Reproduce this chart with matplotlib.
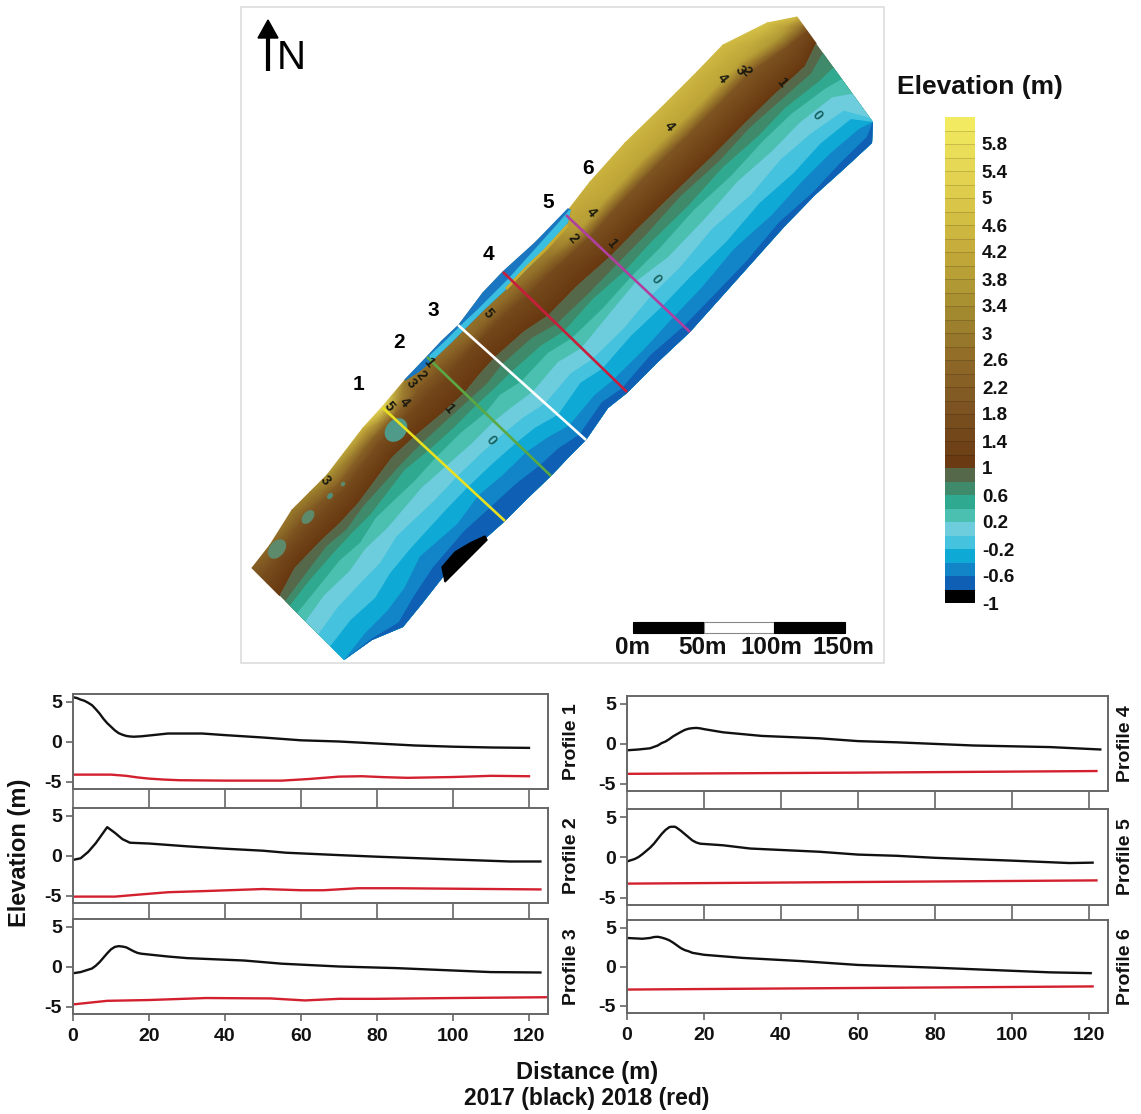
import numpy as np
import matplotlib
matplotlib.use("Agg")
import matplotlib.pyplot as plt
from matplotlib.colors import LinearSegmentedColormap
from matplotlib.patches import Ellipse, Polygon, Rectangle

#-----Data-----#
distance1_black = [0,1,2,3,4,5,6,7,8,9,10,11,12,13,14,15,16,18,20,25,30,34,40,50,60,70,80,90,100,110,120]
elev1_black = [5.6,5.5,5.3,5.15,4.9,4.6,4.1,3.55,2.9,2.35,1.9,1.45,1.1,0.9,0.75,0.68,0.65,0.7,0.8,1.05,1.05,1.05,0.85,0.55,0.2,0.05,-0.2,-0.45,-0.6,-0.7,-0.75]
distance1_red = [0,10,14,17,20,24,28,40,55,62,66,70,76,82,88,100,110,120]
elev1_red = [-4.1,-4.1,-4.25,-4.45,-4.6,-4.72,-4.8,-4.85,-4.85,-4.65,-4.5,-4.35,-4.3,-4.42,-4.5,-4.4,-4.25,-4.3]

distance2_black = [0,2,4,6,9,11,13,15,20,30,40,50,56,70,80,100,115,123]
elev2_black = [-0.5,-0.3,0.5,1.6,3.6,2.9,2.1,1.65,1.55,1.2,0.9,0.65,0.4,0.1,-0.1,-0.45,-0.7,-0.7]
distance2_red = [0,11,16,25,35,50,60,66,75,85,123]
elev2_red = [-5.1,-5.1,-4.9,-4.55,-4.4,-4.15,-4.3,-4.3,-4.05,-4.05,-4.2]

distance3_black = [0,2,5,6,7,8,9,10,11,12,13,14,15,16,17,18,20,25,30,45,55,70,85,100,110,123]
elev3_black = [-0.8,-0.65,-0.2,0.15,0.6,1.15,1.7,2.2,2.5,2.6,2.55,2.45,2.2,1.95,1.75,1.65,1.55,1.3,1.1,0.8,0.4,0.05,-0.15,-0.45,-0.65,-0.7]
distance3_red = [0,4,9,20,35,52,61,70,80,100,124.5]
elev3_red = [-4.7,-4.5,-4.25,-4.15,-3.9,-3.95,-4.2,-4.0,-4.0,-3.9,-3.8]

distance4_black = [0,3,6,8,9,10,11,12,14,15,16,17,18,19,20,25,35,50,60,70,90,110,123]
elev4_black = [-0.8,-0.7,-0.55,-0.2,0.1,0.3,0.6,0.95,1.5,1.75,1.9,1.97,2.0,1.95,1.85,1.45,1.0,0.7,0.35,0.2,-0.2,-0.4,-0.7]
distance4_red = [0,60,122]
elev4_red = [-3.75,-3.6,-3.4]

distance5_black = [0,2,3,4,5,6,7,8,9,10,11,11.5,12.5,13,14,15,16,17,18,19,25,32,50,60,70,80,100,115,121]
elev5_black = [-0.5,-0.2,0.05,0.4,0.8,1.2,1.7,2.3,2.9,3.4,3.75,3.8,3.8,3.65,3.3,2.9,2.5,2.1,1.85,1.7,1.5,1.1,0.7,0.35,0.2,-0.05,-0.4,-0.7,-0.65]
distance5_red = [0,60,122]
elev5_red = [-3.25,-3.05,-2.85]

distance6_black = [0,4,6,7,8,9,10,11,12,13,14,15,16,17,20,30,45,60,80,100,110,120.5]
elev6_black = [3.7,3.6,3.7,3.82,3.85,3.75,3.6,3.4,3.1,2.75,2.4,2.15,2.0,1.8,1.55,1.15,0.75,0.25,-0.1,-0.5,-0.7,-0.8]
distance6_red = [0,60,121]
elev6_red = [-2.9,-2.7,-2.5]

profile_names = ["Profile 1","Profile 2","Profile 3","Profile 4","Profile 5","Profile 6"]
distance_ticks = [0,20,40,60,80,100,120]
elev_ticks = [-5,0,5]
elev_tick_labels = ["-5","0","5"]

#map stations: landward edge and seaward edge of the strip
land_edge_x = [252,270,292,310,327,363,383,405,427,442,459,483,503,535,566,590,625,662,697,723,767,797]
land_edge_y = [568,545,510,492,475,428,406,380,357,341,325,293,272,243,213,182,143,107,72,45,23,17]
sea_edge_x = [344,372,403,421,443,478,505,528,551,568,586,608,627,658,690,716,750,784,815,845,872,873]
sea_edge_y = [660,640,627,605,577,545,521,498,476,458,440,408,393,362,332,303,265,227,195,168,143,122]

#where each contour crosses a station, as a share of the way from land edge to sea edge
contour_levels = [1.0,0.8,0.6,0.4,0.2,0.0,-0.2,-0.4,-0.6]
contour_share = [
    [0.30,0.36,0.41,0.49,0.58,0.72,0.85,1.00,1.00],
    [0.24,0.33,0.38,0.46,0.53,0.66,0.79,0.93,0.99],
    [0.26,0.31,0.37,0.43,0.52,0.62,0.75,0.86,0.96],
    [0.27,0.33,0.37,0.45,0.50,0.63,0.72,0.85,0.93],
    [0.27,0.31,0.38,0.42,0.52,0.60,0.72,0.80,0.91],
    [0.25,0.32,0.36,0.45,0.51,0.62,0.71,0.82,0.88],
    [0.26,0.32,0.38,0.44,0.52,0.61,0.70,0.78,0.88],
    [0.29,0.34,0.40,0.45,0.54,0.62,0.71,0.80,0.89],
    [0.30,0.35,0.40,0.47,0.54,0.63,0.72,0.80,0.91],
    [0.29,0.36,0.41,0.46,0.56,0.65,0.74,0.83,0.92],
    [0.28,0.34,0.41,0.49,0.58,0.68,0.78,0.87,0.95],
    [0.33,0.39,0.46,0.52,0.60,0.70,0.78,0.89,0.95],
    [0.36,0.43,0.49,0.55,0.63,0.72,0.80,0.89,0.96],
    [0.35,0.43,0.47,0.55,0.60,0.72,0.78,0.89,0.94],
    [0.36,0.42,0.48,0.53,0.57,0.69,0.78,0.87,0.95],
    [0.38,0.44,0.49,0.55,0.62,0.71,0.79,0.88,0.96],
    [0.40,0.44,0.51,0.55,0.63,0.70,0.81,0.87,0.97],
    [0.41,0.46,0.50,0.57,0.62,0.73,0.80,0.90,0.96],
    [0.41,0.45,0.52,0.56,0.64,0.71,0.82,0.89,0.98],
    [0.41,0.46,0.51,0.56,0.63,0.72,0.80,0.88,0.96],
    [0.36,0.42,0.49,0.55,0.62,0.73,0.80,0.88,0.95],
    [0.25,0.34,0.48,0.59,0.73,0.96,1.00,1.00,1.00],
]
#elevation on the land part: at the land edge, then 35 and 55 percent of the way to the 1 m contour
land_elev = [
    [2.2,1.7,1.5],[2.6,1.8,1.5],[3.0,2.0,1.6],[3.2,2.0,1.6],[3.6,2.2,1.6],[4.4,2.4,1.7],
    [5.6,2.4,1.6],[3.0,2.0,1.5],[3.0,2.0,1.5],[3.0,2.2,1.5],[3.0,2.4,1.5],[3.2,2.6,1.6],
    [3.4,2.6,1.6],[3.8,2.8,1.6],[4.2,3.8,1.8],[4.4,4.0,1.9],[4.5,4.0,2.0],[4.5,4.0,2.0],
    [4.5,4.0,2.0],[4.6,4.0,2.0],[4.8,3.6,1.8],[4.6,2.6,1.6],
]
land_steps = [0.0,0.35,0.55,1.0]

band_colors = ["#0f5fb5","#1185c7","#0fa9d6","#45c2dd","#6ecddd","#4bbfb0","#2fa98f","#3f8a6a","#56684a"]
land_colors = ["#683810","#7a5020","#8f6a28","#a58d30","#c4aa3a","#dcc94a","#f4ec62"]
land_color_levels = [1.0,1.8,2.6,3.4,4.2,5.0,6.2]

black_patch_x = [445,442,455,470,485,487]
black_patch_y = [582,567,552,543,536,540]
strip_x = [568,535,503,483,459,442,427,405,418,430,450,470,483,513,540,567,570]
strip_y = [209,243,272,293,325,341,357,380,372,362,343,323,310,282,255,223,210]
stripe_x = [570,560,535,508,478,462,445,430,432,450,470,483,513,540,567]
stripe_y = [210,222,250,280,310,325,342,356,360,343,323,310,282,255,223]
ridge_x = [507,527,545,567]
ridge_y = [288,267,250,226]

pond_x = [396,277,308,330,343]
pond_y = [430,549,517,496,484]
pond_w = [26,22,16,7,5]
pond_h = [20,15,10,5,4]
pond_colors = ["#4f9a88","#5e8a6c","#5e8a6c","#4f8f78","#5e8a6c"]

line_x0 = [383,427,458,503,566]
line_y0 = [408,357,325,272,215]
line_x1 = [505,551,586,627,690]
line_y1 = [521,476,440,392,332]
line_colors = ["#e8e020","#5aa844","#ffffff","#c81e3c","#b040a0"]

number_labels = ["1","2","3","4","5","6"]
number_x = [358,399,433,488,548,588]
number_y = [384,342,310,255,203,169]

contour_text = ["5","4","3","2","1","1","0","3","4","3","2","1","0","4","4","2","1","0","5"]
contour_text_x = [389,404,411,421,429,449,491,325,722,740,746,782,817,669,591,573,612,656,488]
contour_text_y = [406,402,383,375,362,408,440,480,78,70,71,82,115,126,212,238,243,279,313]

scale_edges = [633,704,774,845]
scale_fill = ["black","white","black"]
scale_names = ["0m","50m","100m","150m"]
scale_name_x = [632,703,771,843]

bar_ticks = [-1,-0.6,-0.2,0.2,0.6,1,1.4,1.8,2.2,2.6,3,3.4,3.8,4.2,4.6,5,5.4,5.8]
bar_labels = ["-1","-0.6","-0.2","0.2","0.6","1","1.4","1.8","2.2","2.6","3","3.4","3.8","4.2","4.6","5","5.4","5.8"]
#-----Data-----#

plt.rcParams["font.family"] = ["Liberation Sans","DejaVu Sans"]
plt.rcParams["font.weight"] = "bold"

Width,Height = 1141,1114
fig = plt.figure(figsize=(Width/100,Height/100),dpi=100,facecolor="white")

#Makes an axes from a pixel box measured from the top left
def PixelAxes(x0,y0,x1,y1):
    return fig.add_axes([x0/Width,1-y1/Height,(x1-x0)/Width,(y1-y0)/Height])

#-----Map-----#
Main = PixelAxes(0,0,Width,Height)
Main.set_xlim(0,Width)
Main.set_ylim(Height,0)
Main.axis("off")

Main.add_patch(Rectangle((241,7),643,656,facecolor="white",edgecolor="#dddddd",lw=1.2))

LandX,LandY = np.array(land_edge_x,float),np.array(land_edge_y,float)
SeaX,SeaY = np.array(sea_edge_x,float),np.array(sea_edge_y,float)
Share = np.array(contour_share)

#Land part, shaded through the elevation readings
Steps = np.array(land_steps)[None,:]
MeshX = LandX[:,None]+(SeaX-LandX)[:,None]*Share[:,[0]]*Steps
MeshY = LandY[:,None]+(SeaY-LandY)[:,None]*Share[:,[0]]*Steps
MeshZ = np.column_stack([np.array(land_elev),np.ones(len(land_elev))])
Stops = [(v-1.0)/5.2 for v in land_color_levels]
LandCmap = LinearSegmentedColormap.from_list("land",list(zip(Stops,land_colors)))
Main.pcolormesh(MeshX,MeshY,MeshZ,shading="gouraud",cmap=LandCmap,vmin=1.0,vmax=6.2,zorder=2)

#Contour bands, each painted from its contour down to the sea edge
for Column,Color in zip(range(len(contour_levels)),band_colors[::-1]):
    BoundX = LandX+(SeaX-LandX)*Share[:,Column]
    BoundY = LandY+(SeaY-LandY)*Share[:,Column]
    Points = np.column_stack([np.r_[BoundX,SeaX[::-1]],np.r_[BoundY,SeaY[::-1]]])
    Main.add_patch(Polygon(Points,closed=True,facecolor=Color,edgecolor="none",zorder=3))

Main.fill(black_patch_x,black_patch_y,color="black",zorder=4)
Main.fill(strip_x,strip_y,color="#1a76c0",zorder=4)
Main.fill(stripe_x,stripe_y,color="#3bbfe0",zorder=4)
Main.plot(ridge_x,ridge_y,color="#c9ab30",lw=2,zorder=4)
for x,y,w,h,Color in zip(pond_x,pond_y,pond_w,pond_h,pond_colors):
    Main.add_patch(Ellipse((x,y),w,h,angle=-50,facecolor=Color,edgecolor="none",zorder=4))

for x0,y0,x1,y1,Color in zip(line_x0,line_y0,line_x1,line_y1,line_colors):
    Main.plot([x0,x1],[y0,y1],color=Color,lw=1.9,zorder=5,solid_capstyle="butt")

for Name,x,y in zip(contour_text,contour_text_x,contour_text_y):
    Color = "#17605e" if Name=="0" else "#1a1a10"
    Main.text(x,y,Name,fontsize=10,rotation=-50,ha="center",va="center",color=Color,zorder=6)

for Name,x,y in zip(number_labels,number_x,number_y):
    Main.text(x,y,Name,fontsize=15,ha="center",va="center",color="black",zorder=6)

#North arrow
Main.plot([268,268],[71,34],color="black",lw=3,solid_capstyle="butt",zorder=6)
Main.fill([268,258,278],[20,38,38],color="black",zorder=6)
Main.text(291,58,"N",fontsize=29,fontweight="normal",ha="center",va="center",color="black",zorder=6)

#Scale bar
for i,Color in enumerate(scale_fill):
    Main.add_patch(Rectangle((scale_edges[i],622),scale_edges[i+1]-scale_edges[i],11,facecolor=Color,edgecolor="#888888" if Color=="white" else "black",lw=0.8,zorder=6))
for Name,x in zip(scale_names,scale_name_x):
    Main.text(x,648,Name,fontsize=17.5,ha="center",va="center",color="#111111",zorder=6)
#-----Map-----#

#-----Colour bar-----#
Main.text(980,87,"Elevation (m)",fontsize=19,ha="center",va="center",color="#111111")

Bar = PixelAxes(945,117,975,603)
BarEdges = np.round(np.arange(-1,6.21,0.2),1)
BarCenters = (BarEdges[:-1]+BarEdges[1:])/2
BarColors = ["black"]+band_colors+[LandCmap((v-1.0)/5.2) for v in BarCenters[10:]]
for i in range(len(BarCenters)):
    Bar.axhspan(BarEdges[i],BarEdges[i+1],color=BarColors[i],lw=0)
    if(BarEdges[i]>1):
        Bar.axhline(BarEdges[i],color="black",alpha=0.15,lw=0.7)
Bar.set_ylim(-1,6.2)
Bar.set_xlim(0,1)
Bar.set_xticks([])
Bar.yaxis.tick_right()
Bar.set_yticks(bar_ticks)
Bar.set_yticklabels(bar_labels,fontsize=13.5,color="#111111")
Bar.tick_params(axis="y",length=0,pad=5)
for Spine in Bar.spines.values():
    Spine.set_visible(False)
#-----Colour bar-----#

#-----Profiles-----#
BlackX = [distance1_black,distance2_black,distance3_black,distance4_black,distance5_black,distance6_black]
BlackY = [elev1_black,elev2_black,elev3_black,elev4_black,elev5_black,elev6_black]
RedX = [distance1_red,distance2_red,distance3_red,distance4_red,distance5_red,distance6_red]
RedY = [elev1_red,elev2_red,elev3_red,elev4_red,elev5_red,elev6_red]

Boxes = [(73,694,548,789),(73,808,548,903),(73,919,548,1014),
         (627,696,1108,791),(627,809,1108,905),(627,920,1108,1013)]

for i,Box in enumerate(Boxes):
    Ax = PixelAxes(*Box)
    Ax.plot(BlackX[i],BlackY[i],color="#111111",lw=1.7,solid_joinstyle="round")
    Ax.plot(RedX[i],RedY[i],color="#d3202e",lw=1.7,solid_joinstyle="round")
    Ax.set_xlim(0,125)
    Ax.set_ylim(-5.9,6)
    Ax.set_yticks(elev_ticks)
    Ax.set_yticklabels(elev_tick_labels,fontsize=14,color="#111111")
    Ax.set_xticks(distance_ticks)
    Ax.tick_params(axis="y",length=5,width=1.2,color="#666666",pad=3)
    if(i in (2,5)):
        Ax.set_xticklabels([str(v) for v in distance_ticks],fontsize=14,color="#111111")
        Ax.tick_params(axis="x",length=5,width=1.2,color="#666666",pad=5)
    else:
        Gap = Boxes[i+1][1]-Box[3]
        Ax.set_xticklabels([])
        Ax.tick_params(axis="x",length=Gap*0.72,width=1.2,color="#666666")
    for Spine in Ax.spines.values():
        Spine.set_color("#666666")
        Spine.set_linewidth(1.4)
    Side = 571 if i<3 else 1125
    Main.text(Side,(Box[1]+Box[3])/2,profile_names[i],fontsize=14,rotation=90,ha="center",va="center",color="#111111")

Main.text(20,853,"Elevation (m)",fontsize=17,rotation=90,ha="center",va="center",color="#111111")
Main.text(587,1072,"Distance (m)",fontsize=17,ha="center",va="center",color="#111111")
Main.text(587,1099,"2017 (black) 2018 (red)",fontsize=16.5,ha="center",va="center",color="#111111")
#-----Profiles-----#

plt.savefig("out.png",dpi=100)
